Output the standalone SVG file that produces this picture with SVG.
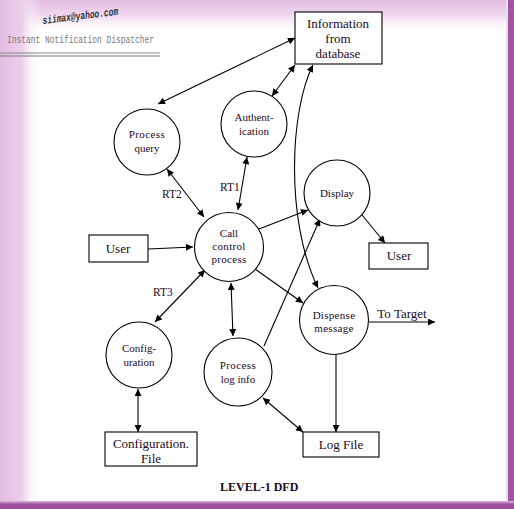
<svg xmlns="http://www.w3.org/2000/svg" width="514" height="509" viewBox="0 0 514 509">
<defs>
<linearGradient id="gl" x1="0" y1="0" x2="1" y2="0">
<stop offset="0" stop-color="#e4bce2"/><stop offset="0.55" stop-color="#ecd0ea"/><stop offset="1" stop-color="#ffffff" stop-opacity="0"/>
</linearGradient>
<linearGradient id="gt" x1="0" y1="0" x2="0" y2="1">
<stop offset="0" stop-color="#e2bce0"/><stop offset="0.4" stop-color="#efd6ee"/><stop offset="1" stop-color="#ffffff" stop-opacity="0"/>
</linearGradient>
<linearGradient id="gb" x1="0" y1="0" x2="0" y2="1">
<stop offset="0" stop-color="#d8b8d8"/><stop offset="0.4" stop-color="#a24fa2"/><stop offset="1" stop-color="#9a4c9a"/>
</linearGradient>
<marker id="ah" viewBox="0 0 10 10" refX="10" refY="5" markerWidth="8" markerHeight="7" orient="auto-start-reverse" markerUnits="userSpaceOnUse">
<path d="M0,0 L10,5 L0,10 z" fill="#000"/>
</marker>
<style>
.n{fill:#fff;stroke:#000;stroke-width:1.1}
.c{fill:none;stroke:#000;stroke-width:1.1}
.t{font-family:"Liberation Serif","Times New Roman",serif;font-size:11px;fill:#1a0a1a;text-anchor:middle}
.b{font-family:"Liberation Serif","Times New Roman",serif;font-size:13px;fill:#1a0a1a;text-anchor:middle}
.l{font-family:"Liberation Serif","Times New Roman",serif;font-size:11.5px;fill:#1a0a1a}
</style>
</defs>
<rect x="0" y="0" width="514" height="509" fill="#fff"/>
<rect x="0" y="0" width="514" height="36" fill="url(#gt)"/>
<rect x="0" y="0" width="40" height="509" fill="url(#gl)"/>
<rect x="506" y="0" width="2" height="505" fill="#e8e0e8"/>
<rect x="508" y="0" width="6" height="509" fill="#a452a4"/>
<rect x="0" y="501" width="514" height="8" fill="url(#gb)"/>

<g id="header">
<text x="43" y="24" transform="rotate(-7 43 24)" font-family="'Liberation Mono','DejaVu Sans Mono',monospace" font-size="11" font-style="italic" font-weight="bold" fill="#333" textLength="76" lengthAdjust="spacingAndGlyphs">siimax@yahoo.com</text>
<text x="7" y="43" font-family="'Liberation Mono','DejaVu Sans Mono',monospace" font-size="11.5" fill="#777" textLength="147" lengthAdjust="spacingAndGlyphs">Instant Notification Dispatcher</text>
<line x1="0" y1="53" x2="160" y2="53" stroke="#888" stroke-width="1"/>
<line x1="0" y1="56" x2="160" y2="56" stroke="#777" stroke-width="1"/>
</g>

<g id="connectors">
<line class="c" x1="158" y1="104" x2="295" y2="38" marker-start="url(#ah)" marker-end="url(#ah)"/>
<line class="c" x1="272" y1="96" x2="295" y2="65" marker-start="url(#ah)" marker-end="url(#ah)"/>
<path class="c" d="M313,65 C290,110 285,220 318,288" marker-start="url(#ah)" marker-end="url(#ah)"/>
<line class="c" x1="247" y1="157" x2="238" y2="210" marker-start="url(#ah)" marker-end="url(#ah)"/>
<line class="c" x1="167" y1="169" x2="204" y2="217" marker-start="url(#ah)" marker-end="url(#ah)"/>
<line class="c" x1="155" y1="322" x2="205" y2="270" marker-start="url(#ah)" marker-end="url(#ah)"/>
<line class="c" x1="231" y1="283" x2="233" y2="336" marker-start="url(#ah)" marker-end="url(#ah)"/>
<line class="c" x1="148" y1="249" x2="193" y2="247" marker-end="url(#ah)"/>
<line class="c" x1="259" y1="229" x2="308" y2="210" marker-end="url(#ah)"/>
<line class="c" x1="255" y1="269" x2="303" y2="303" marker-end="url(#ah)"/>
<line class="c" x1="264" y1="346" x2="320" y2="219" marker-end="url(#ah)"/>
<line class="c" x1="362" y1="215" x2="385" y2="243" marker-end="url(#ah)"/>
<line class="c" x1="336" y1="354" x2="336" y2="432" marker-end="url(#ah)"/>
<line class="c" x1="263" y1="398" x2="303" y2="432" marker-start="url(#ah)" marker-end="url(#ah)"/>
<line class="c" x1="138" y1="389" x2="138" y2="432" marker-start="url(#ah)" marker-end="url(#ah)"/>
<line class="c" x1="369" y1="322" x2="435" y2="322" marker-end="url(#ah)"/>
<text class="l" x="220" y="191">RT1</text>
<text class="l" x="162" y="198">RT2</text>
<text class="l" x="153" y="296">RT3</text>
<text class="b" x="402" y="318">To Target</text>
</g>

<g id="info-db">
<rect class="n" x="295" y="12" width="87" height="52"/>
<text class="b" x="338" y="28">Information</text>
<text class="b" x="338" y="43">from</text>
<text class="b" x="338" y="58">database</text>
</g>
<g id="process-query">
<circle class="n" cx="147" cy="142" r="33"/>
<text class="t" x="147" y="138" letter-spacing="0.4">Process</text>
<text class="t" x="147" y="152">query</text>
</g>
<g id="authentication">
<circle class="n" cx="254" cy="124" r="33"/>
<text class="t" x="254" y="121">Authent-</text>
<text class="t" x="254" y="135">ication</text>
</g>
<g id="call-control">
<circle class="n" cx="229" cy="247" r="34.5"/>
<text class="t" x="229" y="237">Call</text>
<text class="t" x="229" y="250" letter-spacing="0.3">control</text>
<text class="t" x="229" y="263" letter-spacing="0.3">process</text>
</g>
<g id="user-left">
<rect class="n" x="89" y="235" width="59" height="27"/>
<text class="b" x="118" y="253">User</text>
</g>
<g id="display">
<circle class="n" cx="337" cy="193" r="33"/>
<text class="t" x="337" y="197">Display</text>
</g>
<g id="user-right">
<rect class="n" x="369" y="243" width="59" height="26"/>
<text class="b" x="399" y="260">User</text>
</g>
<g id="dispense">
<circle class="n" cx="334" cy="320" r="34.5"/>
<text class="t" x="334" y="319" letter-spacing="0.3">Dispense</text>
<text class="t" x="334" y="332" letter-spacing="0.3">message</text>
</g>
<g id="configuration">
<circle class="n" cx="139" cy="355" r="33"/>
<text class="t" x="139" y="352">Config-</text>
<text class="t" x="139" y="366">uration</text>
</g>
<g id="process-log">
<circle class="n" cx="238" cy="372" r="34"/>
<text class="t" x="238" y="369" letter-spacing="0.4">Process</text>
<text class="t" x="238" y="383">log info</text>
</g>
<g id="config-file">
<rect class="n" x="105" y="432" width="92" height="34"/>
<text class="b" x="151" y="448">Configuration.</text>
<text class="b" x="151" y="463">File</text>
</g>
<g id="log-file">
<rect class="n" x="303" y="432" width="76" height="25"/>
<text class="b" x="341" y="449">Log File</text>
</g>
<text x="220" y="491" font-family="'Liberation Serif','Times New Roman',serif" font-size="12" font-weight="bold" fill="#1a0a1a">LEVEL-1 DFD</text>
</svg>
